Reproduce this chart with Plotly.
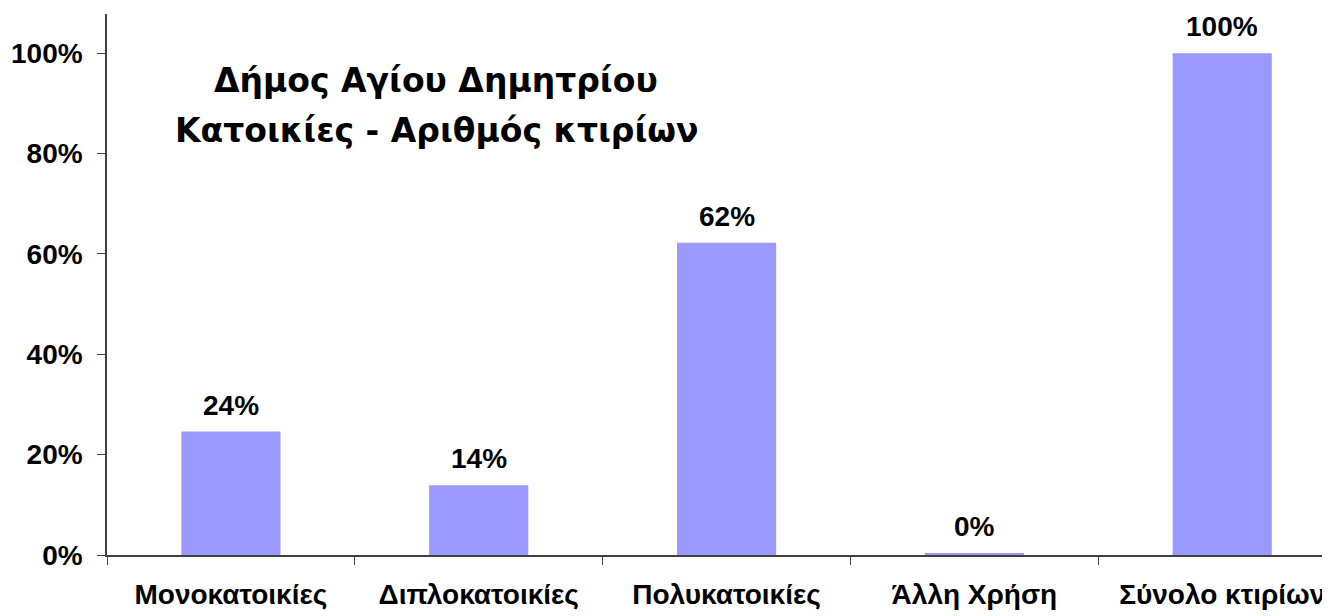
import plotly.graph_objects as go

categories = ["Μονοκατοικίες", "Διπλοκατοικίες", "Πολυκατοικίες", "Άλλη Χρήση", "Σύνολο κτιρίων"]
values = [0.246, 0.139, 0.622, 0.004, 1.0]
labels = ["24%", "14%", "62%", "0%", "100%"]
y_ticks = [0, 0.2, 0.4, 0.6, 0.8, 1.0]
y_ticktext = ["0%", "20%", "40%", "60%", "80%", "100%"]
title_lines = ["Δήμος Αγίου Δημητρίου", "Κατοικίες - Αριθμός κτιρίων"]

LBL = dict(family="Liberation Sans, Arial", size=28, color="black", weight="bold")

fig = go.Figure()
fig.add_trace(go.Bar(
    x=categories, y=values,
    marker=dict(color="#9999FF", line=dict(width=0)),
    hoverinfo="skip",
))

for c, v, t in zip(categories, values, labels):
    fig.add_annotation(x=c, y=v, text=t, showarrow=False, yanchor="bottom", yshift=9, font=LBL)

for line, wy in zip(title_lines, [80, 131]):
    fig.add_annotation(xref="paper", yref="paper", x=(436 - 107) / 1223, y=(555 - wy) / 541,
                       text=line, showarrow=False, xanchor="center", yanchor="middle",
                       font=dict(family="DejaVu Sans", size=33, color="black", weight="bold"))

fig.add_shape(type="rect", xref="paper", yref="paper",
              x0=(1325 - 107) / 1223, x1=1.0, y0=(555 - 48) / 541, y1=(555 + 8) / 541,
              fillcolor="black", line=dict(width=0), layer="above")

fig.update_layout(
    width=1322, height=608,
    margin=dict(l=99, r=0, t=6, b=61),
    plot_bgcolor="white", paper_bgcolor="white",
    bargap=0.6, showlegend=False,
    xaxis=dict(range=[-0.5, 4.435], tickson="boundaries", ticks="outside", ticklen=8,
               tickcolor="#404040", showline=True, linecolor="#404040", linewidth=1.5,
               showgrid=False, ticklabelstandoff=14, tickfont=LBL),
    yaxis=dict(range=[0, 1.078], tickvals=y_ticks, ticktext=y_ticktext, ticks="outside", ticklen=8,
               tickcolor="#404040", showline=True, linecolor="#404040", linewidth=1.5,
               showgrid=False, zeroline=False, ticklabelstandoff=9, tickfont=LBL),
)

fig.write_html("out.html")
